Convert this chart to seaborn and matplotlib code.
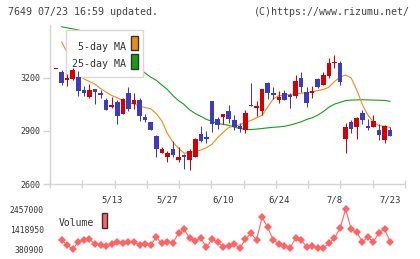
import numpy as np
import pandas as pd
import matplotlib
matplotlib.use("Agg")
import matplotlib.pyplot as plt
import seaborn as sns
from matplotlib.patches import Rectangle

# trading day index 0..60 (4/24 .. 7/23)
tick_days = [10, 20, 30, 40, 50, 60]
tick_labels = ["5/13", "5/27", "6/10", "6/24", "7/8", "7/23"]

opens = [3250, 3235, 3189, 3194, 3207, 3134, 3091, 3138, 3114, 3077,
         3035, 3063, 2996, 3114, 3054, 3073, 2979, 2949, 2871, 2777,
         2751, 2798, 2738, 2764, 2736, 2755, 2882, 2867, 3067, 2970,
         2979, 3011, 2961, 2927, 2908, 3050, 3030, 3013, 3170, 3116,
         3073, 3116, 3101, 3097, 3198, 3123, 3114, 3196, 3162, 3213,
         3287, 3287, 2854, 2951, 2923, 3002, 2927, 2923, 2905, 2849, 2905]
highs = [3250, 3246, 3222, 3254, 3241, 3155, 3166, 3140, 3133, 3088,
         3095, 3073, 3084, 3151, 3114, 3086, 2994, 2949, 2876, 2811,
         2788, 2845, 2808, 2770, 2798, 2858, 2927, 2901, 3069, 2979,
         2996, 3045, 2989, 2945, 3017, 3170, 3067, 3140, 3175, 3148,
         3129, 3134, 3116, 3218, 3235, 3151, 3157, 3198, 3235, 3315,
         3330, 3297, 2948, 2961, 2979, 3017, 2966, 2989, 2942, 2933, 2923]
lows = [3250, 3159, 3153, 3189, 3097, 3097, 3086, 3054, 3084, 3017,
        3032, 2942, 2994, 3011, 3026, 2957, 2951, 2903, 2755, 2774,
        2727, 2755, 2727, 2686, 2680, 2751, 2839, 2833, 2895, 2910,
        2942, 2945, 2905, 2895, 2889, 3039, 2985, 2989, 3082, 3082,
        3060, 3073, 3030, 3088, 3123, 3035, 3086, 3146, 3160, 3200,
        3254, 3161, 2777, 2886, 2854, 2938, 2905, 2921, 2849, 2830, 2870]
closes = [3250, 3170, 3200, 3246, 3125, 3114, 3134, 3119, 3102, 3021,
          3045, 2985, 3082, 3022, 3073, 2985, 2964, 2903, 2796, 2798,
          2777, 2766, 2755, 2755, 2787, 2854, 2845, 2852, 2942, 2933,
          2994, 2966, 2923, 2914, 3002, 3039, 3039, 3138, 3114, 3106,
          3091, 3078, 3091, 3185, 3148, 3060, 3129, 3148, 3218, 3287,
          3290, 3175, 2923, 2914, 2973, 2961, 2917, 2955, 2876, 2929, 2873]

ma5 = [np.nan, 3405, 3345, 3285, 3235, 3195, 3180, 3165, 3140, 3120,
       3101, 3088, 3073, 3058, 3054, 3041, 3032, 3026, 2998, 2957,
       2886, 2836, 2802, 2774, 2780, 2783, 2792, 2805, 2825, 2862,
       2892, 2920, 2928, 2935, 2950, 2960, 2975, 2989, 3035, 3082,
       3100, 3104, 3106, 3110, 3114, 3117, 3121, 3129, 3135, 3148,
       3180, 3205, 3217, 3200, 3132, 3050, 2990, 2950, 2930, 2927, 2920]
ma25 = [np.nan, 3490, 3484, 3478, 3472, 3462, 3450, 3436, 3420, 3400,
        3378, 3355, 3330, 3305, 3280, 3255, 3228, 3205, 3187, 3160,
        3135, 3100, 3072, 3050, 3020, 2999, 2983, 2966, 2955, 2942,
        2938, 2932, 2922, 2914, 2910, 2908, 2911, 2914, 2918, 2921,
        2923, 2927, 2933, 2942, 2952, 2965, 2975, 2990, 3010, 3035,
        3052, 3062, 3072, 3075, 3076, 3077, 3076, 3075, 3074, 3073, 3068]

volume = [np.nan, 863600, 604000, 380900, 775000, 848000, 900000, 656000, 604000, 552000,
          640000, 744000, 692000, 760000, 775000, 588000, 656000, 604000, 1004000, 692000,
          744000, 724000, 1211000, 1419000, 952000, 827000, 952000, 485000, 900000, 760000,
          516000, 552000, 656000, 433000, 900000, 1211000, 863000, 2042000, 1523000, 863000,
          656000, 568000, 433000, 952000, 863000, 516000, 552000, 433000, 433000, 692000,
          952000, 1471000, 2457000, 1419000, 1263000, 775000, 1004000, 775000, 1242000, 1419000,
          775000]

price_ticks = [2600, 2900, 3200]
vol_ticks = [380900, 1418950, 2457000]

UP = "#d40000"
DOWN = "#3c3cbe"
MA5_C = "#f08c14"
MA25_C = "#14a014"
VOL_C = "#ff6464"
AXIS_C = "#d4d4d4"
TEXT_C = "#333333"

W, H = 420, 259


def px_box(x0, y0, x1, y1):
    # pixel box (top-left origin) -> figure fraction (x, y, w, h)
    return x0 / W, 1 - y1 / H, (x1 - x0) / W, (y1 - y0) / H


sns.set_theme(style="white")
plt.rcParams["font.family"] = ["DejaVu Sans Mono", "DejaVu Sans"]

df = pd.DataFrame({"open": opens, "high": highs, "low": lows, "close": closes,
                   "ma5": ma5, "ma25": ma25, "volume": volume})
df["day"] = np.arange(len(df))
df["color"] = np.where(df["close"] >= df["open"], UP, DOWN)
df["body_lo"] = df[["open", "close"]].min(axis=1)
df["body_h"] = (df["close"] - df["open"]).abs().clip(lower=6)

fig = plt.figure(figsize=(W / 100, H / 100), dpi=100)
ax = fig.add_axes(px_box(50, 25, 405, 184))
axv = fig.add_axes(px_box(50, 209.3, 405, 249.3))
xlim = (-1.08, 62.66)

# moving averages (under the legend box)
sns.lineplot(data=df, x="day", y="ma25", color=MA25_C, lw=0.8, ax=ax, zorder=2)
sns.lineplot(data=df, x="day", y="ma5", color=MA5_C, lw=0.8, ax=ax, zorder=2)

# candles (over the legend box)
ax.vlines(df["day"], df["low"], df["high"], colors=df["color"], lw=0.75, zorder=4)
ax.bar(df["day"], df["body_h"], bottom=df["body_lo"], width=0.82,
       color=df["color"], linewidth=0, zorder=5)

ax.set_xlim(*xlim)
ax.set_ylim(2600, 3500)
ax.set_xlabel("")
ax.set_ylabel("")
for s in ["top", "right"]:
    ax.spines[s].set_visible(False)
for s in ["left", "bottom"]:
    ax.spines[s].set_color(AXIS_C)
    ax.spines[s].set_linewidth(1)

ax.set_yticks(price_ticks)
ax.set_yticklabels([str(v) for v in price_ticks])
ax.tick_params(axis="y", direction="out", length=5, width=1, color=AXIS_C,
               labelsize=6, labelcolor=TEXT_C, pad=2, left=True)
ax.set_xticks(np.linspace(xlim[0], xlim[1], 12))
ax.set_xticklabels([])
ax.tick_params(axis="x", which="major", direction="inout", length=6, width=1,
               color=AXIS_C, bottom=True)
ax.set_xticks(tick_days, minor=True)
ax.set_xticklabels(tick_labels, minor=True)
ax.tick_params(axis="x", which="minor", length=0, labelsize=6.4,
               labelcolor=TEXT_C, pad=8)

# legend box for the moving averages
tf = fig.transFigure
bx = px_box(65.7, 30.3, 142.7, 77)
ax.add_patch(Rectangle(bx[:2], bx[2], bx[3], transform=tf, facecolor="white",
                       edgecolor="#d8d8d8", lw=1, zorder=3, clip_on=False))
for (label, col, y0, y1, base) in [("5-day MA", MA5_C, 36.3, 50.3, 49.7),
                                   ("25-day MA", MA25_C, 53.7, 68.7, 67.0)]:
    pb = px_box(130.7, y0, 137.7, y1)
    ax.add_patch(Rectangle(pb[:2], pb[2], pb[3], transform=tf, facecolor=col,
                           edgecolor="#333333", lw=1, zorder=3.1, clip_on=False))
    ax.text(126 / W, 1 - base / H, label, transform=tf, ha="right", va="baseline",
            fontsize=7.2, color=TEXT_C, zorder=3.2)

# volume panel
sns.lineplot(data=df, x="day", y="volume", color=VOL_C, lw=0.8, marker="D",
             markersize=4.3, markeredgewidth=0, ax=axv, clip_on=False)
axv.set_xlim(*xlim)
axv.set_ylim(vol_ticks[0], vol_ticks[-1])
axv.set_xlabel("")
axv.set_ylabel("")
for s in axv.spines.values():
    s.set_visible(False)
axv.set_xticks([])
axv.set_yticks(vol_ticks)
axv.set_yticklabels([str(v) for v in vol_ticks])
axv.tick_params(axis="y", length=0, labelsize=5.8, labelcolor=TEXT_C, pad=4.3)
axv.set_facecolor("none")

vb = px_box(101.7, 213, 107.3, 228)
fig.patches.append(Rectangle(vb[:2], vb[2], vb[3], transform=tf, facecolor=VOL_C,
                             edgecolor="#333333", lw=1))
fig.text(59 / W, 1 - 226.5 / H, "Volume", fontsize=7, color=TEXT_C,
         ha="left", va="baseline")

fig.text(8 / W, 1 - 12 / H, "7649 07/23 16:59 updated.", fontsize=7.2,
         color="#444444", va="center", ha="left")
fig.text(410 / W, 1 - 12 / H, "(C)https://www.rizumu.net/", fontsize=7.2,
         color="#444444", va="center", ha="right")

fig.savefig("out.png", dpi=100)
